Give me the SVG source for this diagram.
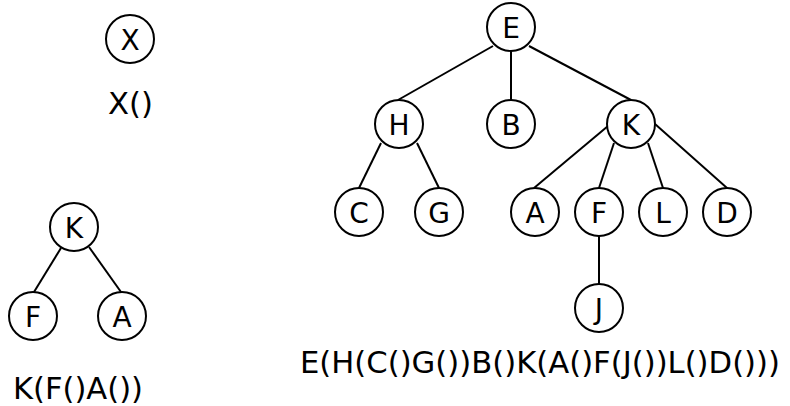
<svg xmlns="http://www.w3.org/2000/svg" width="790" height="406" viewBox="0 0 790 406">
  <style>
    .node circle { fill: #ffffff; stroke: #000000; stroke-width: 2; }
    .node text, .label { font-family: "Comic Sans MS", "DejaVu Sans", sans-serif; fill: #000000; }
    .node text { font-size: 28px; text-anchor: middle; dominant-baseline: central; }
    .label { font-size: 30px; }
    #edges line { stroke: #000000; stroke-width: 2; }
  </style>
  <rect width="790" height="406" fill="#ffffff"/>

  <!-- connectors -->
  <g id="edges">
    <!-- small tree K -->
    <line x1="61" y1="248" x2="34" y2="292"/>
    <line x1="89" y1="247" x2="121" y2="292"/>
    <!-- big tree -->
    <line x1="493" y1="46" x2="398" y2="100"/>
    <line x1="511" y1="51" x2="511" y2="100"/>
    <line x1="529" y1="46" x2="631" y2="100"/>
    <line x1="381" y1="143" x2="359" y2="188"/>
    <line x1="417" y1="143" x2="439" y2="188"/>
    <line x1="608" y1="126" x2="534" y2="188"/>
    <line x1="614" y1="143" x2="599" y2="188"/>
    <line x1="648" y1="143" x2="663" y2="188"/>
    <line x1="655" y1="124" x2="727" y2="188"/>
    <line x1="599" y1="236" x2="599" y2="284"/>
  </g>

  <!-- single node X -->
  <g id="nX" class="node"><circle cx="130" cy="39" r="24"/><text x="130" y="40">X</text></g>
  <text class="label" x="108" y="114" textLength="45" lengthAdjust="spacingAndGlyphs">X()</text>

  <!-- tree K(F()A()) -->
  <g id="nK1" class="node"><circle cx="74" cy="227" r="24"/><text x="74" y="228">K</text></g>
  <g id="nF1" class="node"><circle cx="33" cy="316" r="24"/><text x="33" y="317">F</text></g>
  <g id="nA1" class="node"><circle cx="122" cy="316" r="24"/><text x="122" y="317">A</text></g>
  <text class="label" x="13" y="399" textLength="130" lengthAdjust="spacingAndGlyphs">K(F()A())</text>

  <!-- tree E(...) -->
  <g id="nE" class="node"><circle cx="511" cy="27" r="24"/><text x="511" y="28">E</text></g>
  <g id="nH" class="node"><circle cx="399" cy="124" r="24"/><text x="399" y="125">H</text></g>
  <g id="nB" class="node"><circle cx="511" cy="124" r="24"/><text x="511" y="125">B</text></g>
  <g id="nK" class="node"><circle cx="631" cy="124" r="24"/><text x="631" y="125">K</text></g>
  <g id="nC" class="node"><circle cx="359" cy="212" r="24"/><text x="359" y="213">C</text></g>
  <g id="nG" class="node"><circle cx="439" cy="212" r="24"/><text x="439" y="213">G</text></g>
  <g id="nA" class="node"><circle cx="535" cy="212" r="24"/><text x="535" y="213">A</text></g>
  <g id="nF" class="node"><circle cx="599" cy="212" r="24"/><text x="599" y="213">F</text></g>
  <g id="nL" class="node"><circle cx="663" cy="212" r="24"/><text x="663" y="213">L</text></g>
  <g id="nD" class="node"><circle cx="727" cy="212" r="24"/><text x="727" y="213">D</text></g>
  <g id="nJ" class="node"><circle cx="599" cy="308" r="24"/><text x="599" y="309">J</text></g>
  <text class="label" x="300" y="373" textLength="480" lengthAdjust="spacingAndGlyphs">E(H(C()G())B()K(A()F(J())L()D()))</text>
</svg>
